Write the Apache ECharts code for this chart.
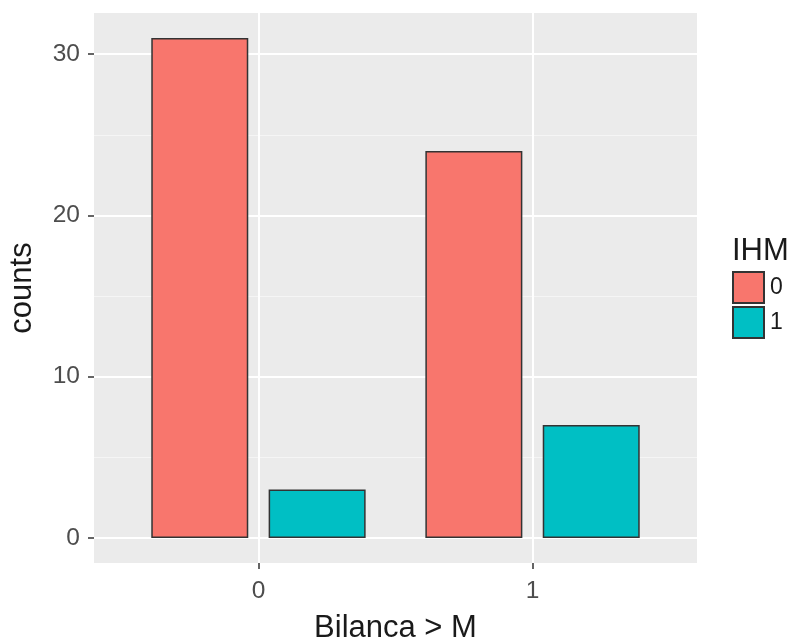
<!DOCTYPE html>
<html>
<head>
<meta charset="utf-8">
<script src="https://cdn.jsdelivr.net/npm/echarts@6/dist/echarts.min.js"></script>
<style>html,body{margin:0;padding:0;background:#fff}#c{width:791px;height:642px}</style>
</head>
<body>
<div id="c"></div>
<script>
// Data
const categories = ['0', '1'];          // Bilanca > M
const groups = ['0', '1'];              // IHM
const countsIHM0 = [31, 24];
const countsIHM1 = [3, 7];
const yTicks = [0, 10, 20, 30];
const yMinor = [5, 15, 25];
const colors = ['#F8766D', '#00BFC4'];

const xPos = categories.map((c, i) => i + 1);
const FONT = '"Liberation Sans", Arial, sans-serif';

const chart = echarts.init(document.getElementById('c'), null, {renderer: 'canvas'});
const makeSeries = (name, vals, color) => ({
  name: name,
  type: 'bar',
  data: vals.map((v, i) => [xPos[i], v]),
  barWidth: 97,
  barGap: '21%',
  itemStyle: {color: color, borderColor: '#333333', borderWidth: 1.5},
  emphasis: {disabled: true},
  animation: false
});

chart.setOption({
  animation: false,
  backgroundColor: '#ffffff',
  textStyle: {fontFamily: FONT},
  grid: {left: 94, right: 94, top: 13, bottom: 79, show: true, backgroundColor: '#EBEBEB', borderWidth: 0,
    containLabel: false, outerBoundsMode: 'none'},
  graphic: [{
    type: 'text', left: 732, top: 236,
    style: {text: 'IHM', fontSize: 31, fontFamily: FONT, fill: '#1a1a1a'}
  }],
  legend: {
    orient: 'vertical', left: 732, top: 271, padding: 0,
    itemWidth: 31, itemHeight: 31, itemGap: 2, icon: 'rect',
    data: groups,
    textStyle: {fontSize: 23, color: '#1a1a1a', fontFamily: FONT, padding: [0, 0, 0, 1]},
    selectedMode: false
  },
  xAxis: {
    type: 'value', min: 0.4, max: 2.6,
    name: 'Bilanca > M', nameLocation: 'middle', nameGap: 50,
    nameTextStyle: {fontSize: 31, color: '#1a1a1a', fontFamily: FONT},
    axisLine: {show: false, onZero: false},
    axisTick: {show: true, length: 6, customValues: xPos, lineStyle: {color: '#333333', width: 1.5}},
    axisLabel: {customValues: xPos, margin: 16, fontSize: 24.5, color: '#4D4D4D', fontFamily: FONT,
      formatter: v => categories[Math.round(v) - 1]},
    splitLine: {show: true, lineStyle: {color: '#ffffff', width: 2}}
  },
  yAxis: [{
    type: 'value', min: -1.55, max: 32.55,
    name: 'counts', nameLocation: 'middle', nameGap: 56,
    nameTextStyle: {fontSize: 31, color: '#1a1a1a', fontFamily: FONT},
    axisLine: {show: false, onZero: false},
    axisTick: {show: true, length: 6, customValues: yTicks, lineStyle: {color: '#333333', width: 1.5}},
    axisLabel: {customValues: yTicks, margin: 14, fontSize: 24.5, color: '#4D4D4D', fontFamily: FONT},
    splitLine: {show: true, lineStyle: {color: '#ffffff', width: 2}},
    z: 1
  }, {
    type: 'value', min: -1.55, max: 32.55, position: 'left',
    axisLine: {show: false, onZero: false},
    axisTick: {show: false, customValues: yMinor},
    axisLabel: {show: false, customValues: yMinor},
    splitLine: {show: true, lineStyle: {color: '#F5F5F5', width: 1.2}},
    z: 0
  }],
  series: [
    makeSeries(groups[0], countsIHM0, colors[0]),
    makeSeries(groups[1], countsIHM1, colors[1])
  ]
});
</script>
</body>
</html>
